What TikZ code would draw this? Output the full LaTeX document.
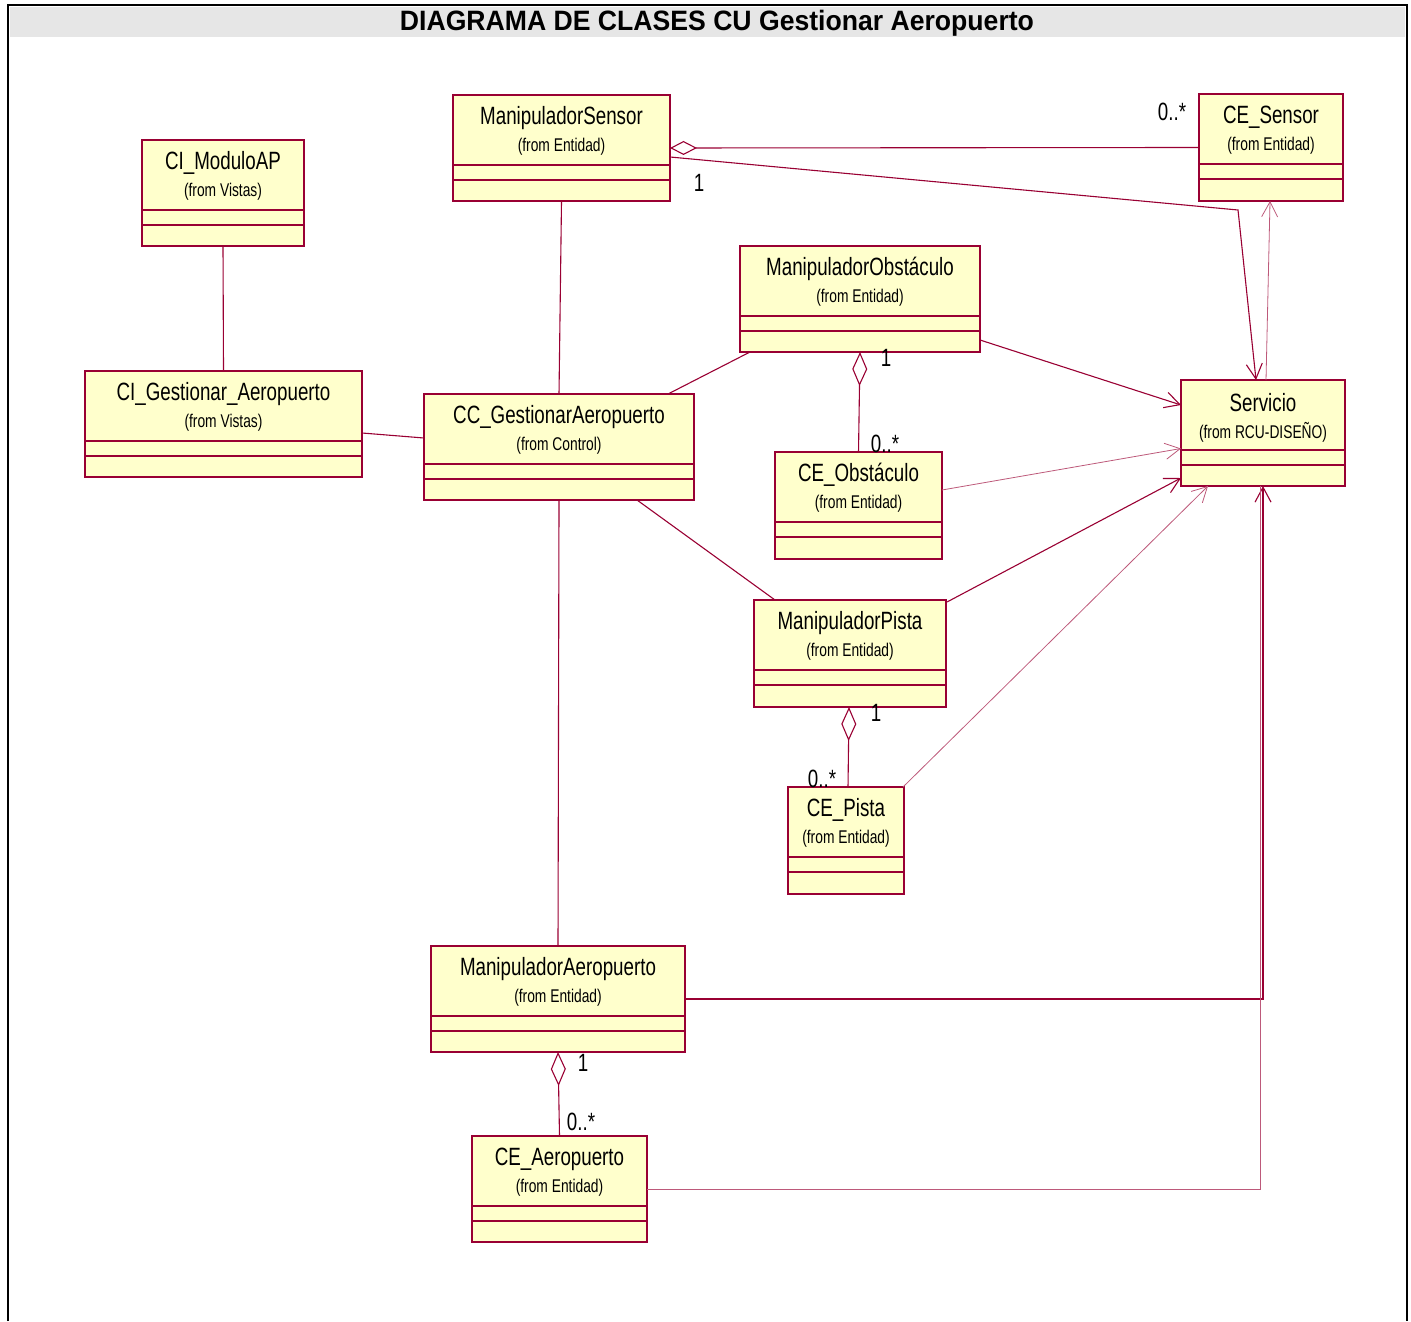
\documentclass[tikz,border=0pt]{standalone}
\usepackage{fontspec}
\usetikzlibrary{arrows.meta,fit}
\newfontfamily\umlfont[FakeStretch=0.75]{Liberation Sans}
\newfontfamily\headfont[FakeStretch=0.95]{Liberation Sans}
\definecolor{umlred}{RGB}{153,0,51}
\definecolor{umlfill}{RGB}{255,255,204}
\definecolor{headgrey}{RGB}{230,230,230}

\tikzset{
  classbox/.style={draw=umlred, fill=umlfill, line width=1pt, inner sep=0pt, outer sep=0pt},
  sepline/.style={draw=umlred, line width=0.7pt},
  nametext/.style={font=\umlfont\fontsize{12.5}{14}\selectfont, inner sep=0pt},
  fromtext/.style={font=\umlfont\fontsize{9.2}{11}\selectfont, inner sep=0pt},
  multext/.style={font=\umlfont\fontsize{12.5}{14}\selectfont, inner sep=0pt},
  assoc/.style={draw=umlred, line width=0.55pt},
  depend/.style={draw=umlred, line width=0.55pt, -{Straight Barb[length=7.5pt,width=8pt]}},
  faint/.style={draw=umlred!65, line width=0.4pt},
  aggr/.style={draw=umlred, line width=0.55pt, {Diamond[open,length=17pt,width=7.5pt]}-},
  aggrh/.style={draw=umlred, line width=0.55pt, {Diamond[open,length=13.5pt,width=7pt]}-},
}

% class box: name, left, top, right, bottom, class name, package
\newcommand\umlclass[7]{%
  \node[classbox, fit={(#2,#3) (#4,#5)}] (#1) {};
  \draw[sepline] (#2,#3+70) -- (#4,#3+70);
  \draw[sepline] (#2,#3+85) -- (#4,#3+85);
  \node[nametext] (#1-name) at ([yshift=-11.5pt]#1.north) {#6};
  \node[fromtext] (#1-from) at ([yshift=-26pt]#1.north) {(from #7)};
}

\begin{document}
\begin{tikzpicture}[x=0.5pt, y=-0.5pt]
\useasboundingbox (0,0) rectangle (1411,1321);

% frame and heading
\fill[headgrey] (10,7) rectangle (1405,37);
\draw[black, line width=1pt] (8,1321) -- (8,5) -- (1407,5) -- (1407,1321);
\node[font=\headfont\bfseries\fontsize{14}{16}\selectfont, inner sep=0pt] (heading) at (717,23)
  {DIAGRAMA DE CLASES CU Gestionar Aeropuerto};

% classes
\umlclass{msensor}{453}{95}{670}{201}{ManipuladorSensor}{Entidad}
\umlclass{cesensor}{1199}{94}{1343}{201}{CE\_Sensor}{Entidad}
\umlclass{cimodulo}{142}{140}{304}{246}{CI\_ModuloAP}{Vistas}
\umlclass{cigest}{85}{371}{362}{477}{CI\_Gestionar\_Aeropuerto}{Vistas}
\umlclass{ccgest}{424}{394}{694}{500}{CC\_GestionarAeropuerto}{Control}
\umlclass{mobs}{740}{246}{980}{352}{ManipuladorObstáculo}{Entidad}
\umlclass{ceobs}{775}{452}{942}{559}{CE\_Obstáculo}{Entidad}
\umlclass{serv}{1181}{380}{1345}{486}{Servicio}{RCU-DISEÑO}
\umlclass{mpista}{754}{600}{946}{707}{ManipuladorPista}{Entidad}
\umlclass{cepista}{788}{787}{904}{894}{CE\_Pista}{Entidad}
\umlclass{maero}{431}{946}{685}{1052}{ManipuladorAeropuerto}{Entidad}
\umlclass{ceaero}{472}{1136}{647}{1242}{CE\_Aeropuerto}{Entidad}

% bend points
\coordinate (bendS) at (1238,210);
\coordinate (bendMA) at (1263,999);
\coordinate (bendCA) at (1260,1189);

% plain associations
\draw[assoc] (cimodulo.south) -- (cigest.north);
\draw[assoc] ([yshift=-4.5pt]cigest.east) -- ([yshift=4.5pt]ccgest.west);
\draw[assoc] (msensor.south) -- (ccgest.north);
\draw[assoc] ([xshift=54.5pt]ccgest.north) -- ([xshift=-55pt]mobs.south);
\draw[assoc] ([xshift=39pt]ccgest.south) -- ([xshift=-37.5pt]mpista.north);
\draw[assoc] (ccgest.south) -- (maero.north);

% aggregations
\draw[aggrh] (msensor.east) -- (cesensor.west);
\draw[aggr] (mobs.south) -- (ceobs.north);
\draw[aggr] ([xshift=-0.5pt]mpista.south) -- ([xshift=1pt]cepista.north);
\draw[aggr] (maero.south) -- (ceaero.north);

% dependencies towards Servicio
\draw[depend] ([yshift=-4.5pt]msensor.east) -- (bendS) -- ([xshift=-3.5pt]serv.north);
\draw[depend] ([yshift=-20.5pt]mobs.east) -- ([yshift=14pt]serv.west);
\draw[depend, faint] ([yshift=7.75pt]ceobs.east) -- ([yshift=-7.75pt]serv.west);
\draw[depend] ([xshift=0.5pt,yshift=-1pt]mpista.north east) -- ([yshift=-22.5pt]serv.west);
\draw[depend, faint] ([xshift=-0.5pt]cepista.north east) -- ([xshift=-27.5pt]serv.south);
\draw[depend] (maero.east |- bendMA) -- (bendMA) -- (serv.south);
\draw[faint] (ceaero.east |- bendCA) -- (bendCA) -- ([xshift=-1.5pt]serv.south);
\draw[depend, faint] ([xshift=1.5pt]serv.north) -- ([xshift=-0.5pt]cesensor.south);

% multiplicities
\node[multext] (m1) at (699,183) {1};
\node[multext] (m2) at (1172,112) {0..*};
\node[multext] (m3) at (886,358) {1};
\node[multext] (m4) at (885,444) {0..*};
\node[multext] (m5) at (876,713) {1};
\node[multext] (m6) at (822,779) {0..*};
\node[multext] (m7) at (583,1063) {1};
\node[multext] (m8) at (581,1122) {0..*};
\end{tikzpicture}
\end{document}
